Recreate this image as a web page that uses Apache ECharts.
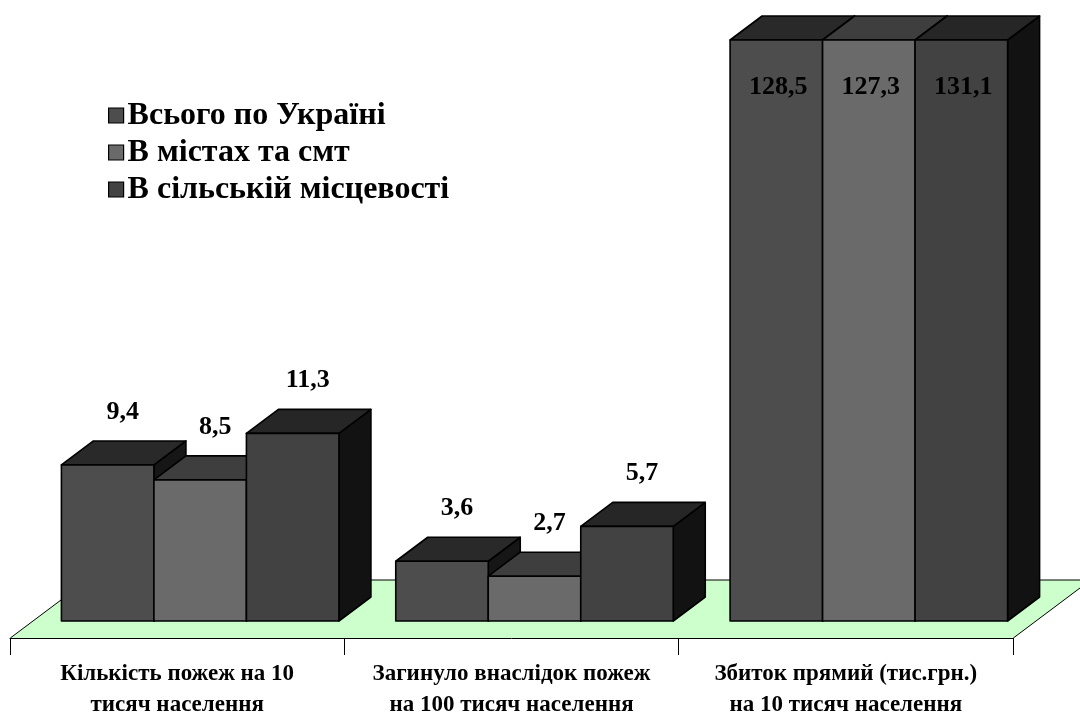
<!DOCTYPE html>
<html>
<head>
<meta charset="utf-8">
<script src="https://cdn.jsdelivr.net/npm/echarts@6/dist/echarts.min.js"></script>
<style>
  html, body { margin: 0; padding: 0; background: #fff; }
  #chart { width: 1080px; height: 715px; }
</style>
</head>
<body>
<div id="chart"></div>
<script>
// categories and values
var categories = [
  'Кількість пожеж на 10\nтисяч населення',
  'Загинуло внаслідок пожеж\nна 100 тисяч населення',
  'Збиток прямий (тис.грн.)\nна 10 тисяч населення'
]
var seriesNames = ['Всього по Україні', 'В містах та смт', 'В сільській місцевості']
var totalUkraine = [9.4, 3.6, 128.5]
var citiesTowns = [8.5, 2.7, 127.3]
var ruralAreas = [11.3, 5.7, 131.1]
var axisMax = 35

// look of the 3d bars
var faceColors = ['#4d4d4d', '#6a6a6a', '#424242']
var topColors = ['#292929', '#3e3e3e', '#262626']
var sideColors = ['#161616', '#161616', '#121212']
var DX = 32, DY = -24           // depth of a bar
var FLOOR_PAD = 17 / 24         // floor sticks out in front/behind the bars
var GROUP_RATIO = 0.83
var FONT = '"Liberation Serif", "Times New Roman", serif'

function fmt(v) {
  return String(v).replace('.', ',')
}

function makeBarRender(si) {
  return function (params, api) {
    var cat = api.value(0)
    var val = api.value(1)
    var base = api.coord([cat, 0])
    var top = api.coord([cat, Math.min(val, axisMax)])
    var band = api.size([1, 0])[0]
    var barW = band * GROUP_RATIO / 3
    var x0 = base[0] - band * GROUP_RATIO / 2 + si * barW
    var x1 = x0 + barW
    var yb = base[1], yt = top[1]
    var line = { stroke: '#000', lineWidth: 1.6, lineJoin: 'round' }
    var clipped = val > axisMax
    return {
      type: 'group',
      children: [
        {
          type: 'polygon',
          shape: { points: [[x1, yt], [x1 + DX, yt + DY], [x1 + DX, yb + DY], [x1, yb]] },
          style: Object.assign({ fill: sideColors[si] }, line)
        },
        {
          type: 'polygon',
          shape: { points: [[x0, yt], [x1, yt], [x1 + DX, yt + DY], [x0 + DX, yt + DY]] },
          style: Object.assign({ fill: topColors[si] }, line)
        },
        {
          type: 'rect',
          shape: { x: x0, y: yt, width: barW, height: yb - yt },
          style: Object.assign({ fill: faceColors[si] }, line)
        },
        {
          type: 'text',
          x: clipped ? (x0 + x1) / 2 + 2 : (x0 + x1) / 2 + 15,
          y: clipped ? yt + 47 : yt - 53,
          style: {
            text: fmt(val),
            fill: '#000',
            font: 'bold 26px ' + FONT,
            align: 'center',
            verticalAlign: 'middle'
          }
        }
      ]
    }
  }
}

function renderFloor(params, api) {
  var cs = params.coordSys
  var base = api.coord([0, 0])[1]
  var fx = -DX * FLOOR_PAD, fy = -DY * FLOOR_PAD
  var bx = DX * (1 + FLOOR_PAD), by = DY * (1 + FLOOR_PAD)
  var l = cs.x, r = cs.x + cs.width
  var fl = [l + fx, base + fy], fr = [r + fx, base + fy]
  var br = [r + bx, base + by], bl = [l + bx, base + by]
  return {
    type: 'group',
    children: [
      {
        type: 'polygon',
        shape: { points: [fl, fr, br, bl] },
        style: { fill: '#ccffcc', stroke: null }
      },
      {
        type: 'polyline',
        shape: { points: [fl, bl, br, fr] },
        style: { fill: null, stroke: '#000', lineWidth: 1 }
      }
    ]
  }
}

var seriesData = [totalUkraine, citiesTowns, ruralAreas]
var series = [{
  type: 'custom',
  name: 'floor',
  xAxisIndex: 0,
  yAxisIndex: 0,
  renderItem: renderFloor,
  data: [[0, 0]],
  silent: true,
  z: 1
}]
seriesData.forEach(function (vals, si) {
  series.push({
    type: 'custom',
    name: seriesNames[si],
    xAxisIndex: 0,
    yAxisIndex: 0,
    itemStyle: { color: faceColors[si] },
    renderItem: makeBarRender(si),
    data: vals.map(function (v, i) { return [i, v] }),
    z: 2
  })
})

var chart = echarts.init(document.getElementById('chart'))
chart.setOption({
  animation: false,
  backgroundColor: '#fff',
  legend: {
    data: seriesNames,
    orient: 'vertical',
    left: 103,
    top: 94,
    icon: 'rect',
    itemWidth: 15,
    itemHeight: 15,
    itemGap: 4,
    itemStyle: { borderColor: '#000', borderWidth: 1.2 },
    textStyle: { fontFamily: FONT, fontWeight: 'bold', fontSize: 32, color: '#000', lineHeight: 33, padding: [0, 0, 0, -1] },
    selectedMode: false
  },
  grid: [
    { left: 33, right: 44, top: 40, bottom: 94, containLabel: false, outerBoundsMode: 'none' },
    { left: 10, right: 67, top: 40, bottom: 77, containLabel: false, outerBoundsMode: 'none' }
  ],
  xAxis: [
    { type: 'category', gridIndex: 0, data: categories, show: false },
    {
      type: 'category',
      gridIndex: 1,
      data: categories,
      z: 5,
      axisLine: { lineStyle: { color: '#000', width: 1 } },
      axisTick: { show: true, length: 17, lineStyle: { color: '#000' } },
      axisLabel: {
        fontFamily: FONT,
        fontWeight: 'bold',
        fontSize: 23,
        color: '#000',
        lineHeight: 31,
        margin: 21,
        interval: 0
      }
    }
  ],
  yAxis: [
    { type: 'value', gridIndex: 0, min: 0, max: axisMax, show: false },
    { type: 'value', gridIndex: 1, min: 0, max: axisMax, show: false }
  ],
  series: series
})
</script>
</body>
</html>
